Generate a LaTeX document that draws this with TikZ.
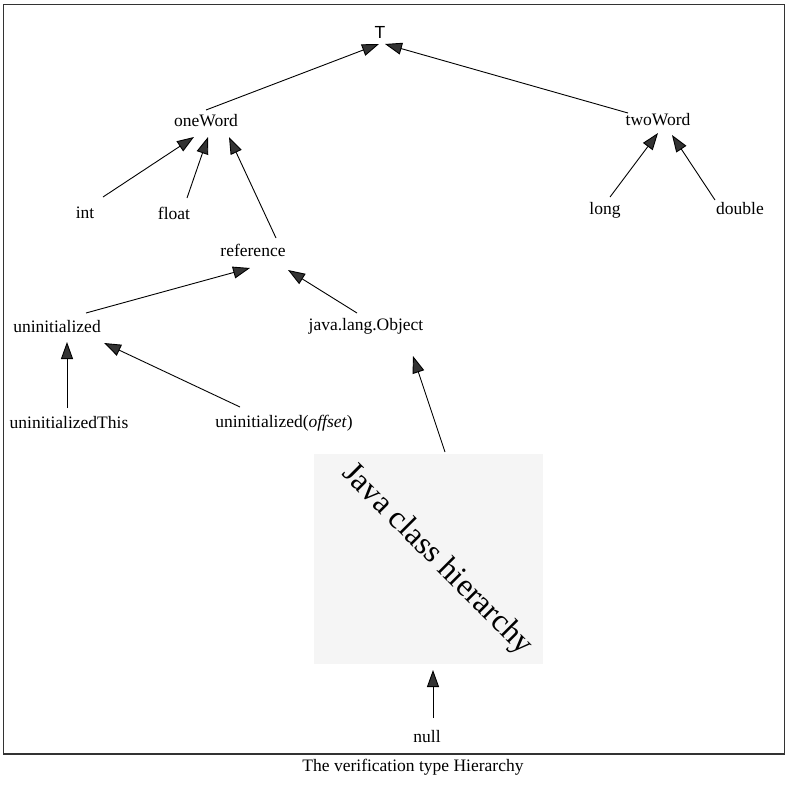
\documentclass[tikz,border=0pt]{standalone}
\usepackage{fontspec}
\setmainfont{Liberation Serif}
\newfontfamily\tsans{Liberation Sans}
\usetikzlibrary{arrows.meta}
\definecolor{dk}{HTML}{333333}
\definecolor{boxbg}{HTML}{F5F5F5}
\tikzset{
  lbl/.style={inner sep=0pt, font=\fontsize{17.5}{20}\selectfont, text=black},
  arr/.style={draw=black, line width=0.9pt, -{Triangle[length=17pt,width=12pt,fill=dk]}},
}
\begin{document}
\begin{tikzpicture}[x=1pt,y=-1pt]
\useasboundingbox (0,0) rectangle (788,787);
\fill[white] (0,0) rectangle (788,787);
\draw[dk, line width=1.4pt] (3.5,4.5) rectangle (784.5,754);
% box
\fill[boxbg] (314,454) rectangle (543,664);
\node[lbl, rotate=-45, font=\fontsize{32}{35}\selectfont] (jch) at (437,560) {Java class hierarchy};
\coordinate (boxtop) at (445,452);
\coordinate (boxbot) at (433,670);
% nodes
\node[lbl, font=\tsans\fontsize{17.5}{20}\selectfont] (top) at (380,32) {T};
\node[lbl] (one) at (206,121) {oneWord};
\node[lbl] (two) at (658,120) {twoWord};
\node[lbl] (int) at (85,213) {int};
\node[lbl] (float) at (174,213) {float};
\node[lbl] (long) at (605,210) {long};
\node[lbl] (double) at (740,209) {double};
\node[lbl] (ref) at (253,250) {reference};
\node[lbl] (uninit) at (57,327) {uninitialized};
\node[lbl] (obj) at (366,326) {java.lang.Object};
\node[lbl] (uthis) at (69,423) {uninitializedThis};
\node[lbl] (uoff) at (284,423) {uninitialized(\textit{offset})};
\node[lbl] (null) at (427,737) {null};
\node[lbl] (cap) at (413,767) {The verification type Hierarchy};
% connector ends
\coordinate (one-s) at (206,110);
\coordinate (top-l) at (379,44);
\coordinate (two-s) at (628,113);
\coordinate (top-r) at (385,44);
\coordinate (int-s) at (103,197);
\coordinate (one-a) at (194,137);
\coordinate (float-s) at (187,198);
\coordinate (one-b) at (208,137);
\coordinate (ref-s) at (276,238);
\coordinate (one-c) at (229,137);
\coordinate (long-s) at (610,197);
\coordinate (two-a) at (658,133);
\coordinate (double-s) at (715,200);
\coordinate (two-b) at (672,135);
\coordinate (uninit-s) at (86,313);
\coordinate (ref-a) at (250,268);
\coordinate (obj-s) at (357,313);
\coordinate (ref-b) at (288,270);
\coordinate (uthis-s) at (67,408);
\coordinate (uninit-a) at (67,342);
\coordinate (uoff-s) at (240,407);
\coordinate (uninit-b) at (104,343);
\coordinate (obj-a) at (413,356);
\coordinate (null-s) at (433,718);
% connectors
\draw[arr] (one-s) -- (top-l);
\draw[arr] (two-s) -- (top-r);
\draw[arr] (int-s) -- (one-a);
\draw[arr] (float-s) -- (one-b);
\draw[arr] (ref-s) -- (one-c);
\draw[arr] (long-s) -- (two-a);
\draw[arr] (double-s) -- (two-b);
\draw[arr] (uninit-s) -- (ref-a);
\draw[arr] (obj-s) -- (ref-b);
\draw[arr] (uthis-s) -- (uninit-a);
\draw[arr] (uoff-s) -- (uninit-b);
\draw[arr] (boxtop) -- (obj-a);
\draw[arr] (null-s) -- (boxbot);
\end{tikzpicture}
\end{document}
